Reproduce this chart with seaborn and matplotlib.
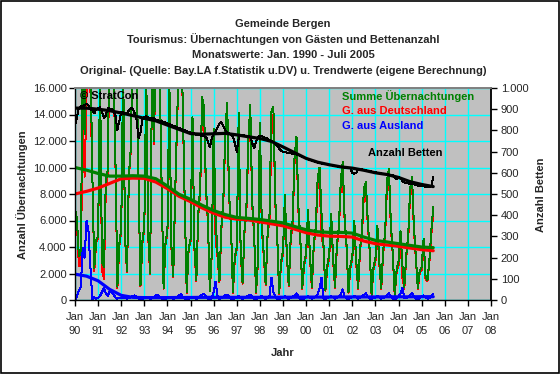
import matplotlib
matplotlib.use("Agg")
import matplotlib.pyplot as plt
import matplotlib.ticker as mticker
import numpy as np
import pandas as pd
import seaborn as sns
from matplotlib.patches import Rectangle

# monthly values Jan 1990 - Jul 2005 (one row per year)
SUMME = [
    6900, 6100, 3300, 3600, 17500, 12500, 21500, 26000, 18500, 9500, 2400, 4500,
    4800, 17000, 2900, 2500, 9000, 9800, 21000, 24500, 18000, 10500, 1000, 4200,
    5400, 17500, 4700, 2200, 9500, 11500, 20500, 25000, 17500, 9000, 1100, 4400,
    5600, 17000, 5000, 2000, 17200, 12000, 20000, 23500, 17000, 8500, 900, 4300,
    5200, 16500, 4200, 1800, 8000, 13500, 18500, 21000, 14500, 7200, 600, 3900,
    4600, 13800, 4000, 1500, 6500, 8500, 15300, 14500, 8500, 6000, 700, 3500,
    12900, 6000, 3600, 1400, 5500, 7500, 12500, 14900, 8000, 5600, 600, 3300,
    4000, 14100, 3800, 1300, 5200, 7000, 12000, 14700, 7500, 5000, 600, 3000,
    13400, 5600, 3500, 1200, 5000, 6500, 14200, 14600, 7500, 4800, 500, 2900,
    3700, 7900, 3400, 1100, 4700, 6000, 10800, 12300, 7000, 4600, 900, 2800,
    3500, 6800, 3300, 1000, 4300, 5500, 9200, 10000, 6500, 4200, 750, 2600,
    3400, 6500, 3200, 1000, 4200, 5500, 9000, 10400, 6200, 4100, 600, 2600,
    3300, 6000, 3000, 900, 3900, 5200, 8400, 8900, 6000, 3800, 400, 2500,
    3100, 5600, 2900, 900, 3700, 5000, 9000, 9900, 5800, 3500, 400, 2300,
    2900, 5200, 2600, 1000, 3400, 4800, 8400, 9300, 5500, 3200, 900, 2200,
    2500, 4600, 1800, 1500, 3000, 5200, 7000,
]

AUSLAND = [
    0, 300, 700, 1000, 3900, 3200, 6000, 5200, 2500, 0, 200, 100,
    150, 300, 600, 900, 500, 300, 700, 600, 400, 200, 100, 150,
    150, 200, 150, 100, 150, 200, 300, 350, 200, 100, 50, 100,
    120, 200, 150, 80, 150, 250, 350, 400, 250, 100, 50, 100,
    150, 250, 150, 80, 150, 250, 350, 450, 250, 100, 50, 100,
    150, 250, 150, 80, 150, 300, 400, 450, 250, 100, 50, 120,
    600, 1400, 300, 80, 150, 250, 350, 400, 250, 100, 50, 120,
    200, 300, 150, 80, 150, 250, 300, 400, 250, 100, 50, 120,
    200, 300, 150, 80, 150, 300, 1700, 600, 250, 100, 50, 120,
    200, 300, 150, 80, 150, 250, 350, 500, 250, 100, 50, 120,
    200, 300, 150, 100, 150, 250, 450, 900, 1700, 100, 50, 150,
    200, 300, 200, 100, 150, 250, 400, 800, 250, 100, 50, 150,
    200, 300, 200, 100, 150, 250, 400, 500, 250, 100, 50, 150,
    200, 300, 200, 100, 150, 250, 400, 500, 300, 100, 50, 150,
    250, 500, 900, 150, 150, 250, 400, 500, 300, 100, 50, 150,
    250, 350, 200, 100, 150, 300, 450,
]

BETTEN = [
    820, 860, 905, 915, 912, 920, 925, 918, 900, 895, 880, 900,
    905, 910, 890, 860, 870, 905, 903, 900, 895, 870, 800, 845,
    888, 885, 880, 878, 895, 905, 902, 880, 850, 762, 790, 850,
    865, 866, 862, 858, 855, 858, 850, 848, 845, 843, 840, 836,
    832, 830, 826, 822, 818, 815, 812, 808, 804, 800, 796, 792,
    790, 788, 785, 780, 778, 776, 774, 772, 770, 748, 722, 760,
    785, 795, 815, 832, 838, 822, 800, 790, 785, 782, 770, 740,
    700, 765, 778, 778, 776, 774, 772, 770, 740, 716, 745, 770,
    775, 772, 768, 765, 760, 755, 750, 745, 735, 725, 715, 705,
    700, 698, 695, 693, 692, 690, 688, 686, 683, 680, 676, 672,
    668, 664, 660, 657, 654, 651, 648, 646, 644, 642, 640, 639,
    638, 636, 634, 632, 630, 628, 627, 626, 625, 624, 623, 622,
    598, 596, 598, 615, 618, 616, 614, 612, 610, 608, 606, 604,
    602, 600, 598, 597, 596, 594, 593, 592, 590, 589, 575, 570,
    580, 575, 560, 555, 552, 550, 548, 546, 545, 542, 540, 538,
    537, 536, 535, 534, 533, 536, 582,
]

# trend values, every half year Jan 1990 - Jul 2005
TREND_SUMME = [
    10000, 9800, 9550, 9350, 9350, 9380, 9350, 9150, 8600, 7980, 7600, 7150,
    6750, 6450, 6230, 6160, 6080, 5950, 5820, 5550, 5300, 5150, 5100, 5100,
    5050, 4750, 4500, 4380, 4250, 4120, 4000, 3950,
]
TREND_DEUTSCH = [
    8000, 8200, 8450, 8800, 9150, 9200, 9180, 8900, 8400, 7830, 7420, 6950,
    6550, 6250, 6100, 6040, 5900, 5750, 5600, 5350, 5080, 4900, 4820, 4800,
    4750, 4450, 4250, 4150, 4050, 3920, 3800, 3720,
]
TREND_AUSLAND = [
    1950, 1800, 1450, 800, 350, 200, 180, 180, 180, 190, 190, 200,
    200, 200, 200, 200, 200, 210, 210, 210, 220, 220, 220, 230,
    230, 230, 230, 240, 240, 240, 250, 250,
]
TREND_BETTEN = [
    905, 905, 900, 893, 882, 870, 857, 845, 825, 805, 785, 782,
    784, 786, 779, 770, 762, 748, 722, 695, 668, 650, 638, 628,
    622, 612, 600, 592, 578, 558, 545, 535,
]

YEAR_LABELS = ["90", "91", "92", "93", "94", "95", "96", "97", "98", "99",
               "00", "01", "02", "03", "04", "05", "06", "07", "08"]

TITLE_LINES = [
    "Gemeinde Bergen",
    "Tourismus: Übernachtungen von Gästen und Bettenanzahl",
    "Monatswerte: Jan. 1990 - Juli 2005",
    "Original- (Quelle: Bay.LA f.Statistik u.DV) u. Trendwerte (eigene Berechnung)",
]

W, H = 560, 374


def px(x, y):
    """Pixel position (from top left) to figure fraction."""
    return x / W, 1 - y / H


def de_thousands(v, pos=None):
    return f"{int(round(v)):,}".replace(",", ".")


def main():
    sns.set_theme(style="white")
    plt.rcParams["font.family"] = ["Liberation Sans", "DejaVu Sans"]

    months = pd.DataFrame({
        "t": 1990 + np.arange(len(SUMME)) / 12,
        "summe": SUMME,
        "ausland": AUSLAND,
        "betten": BETTEN,
    })
    months["deutsch"] = months["summe"] - months["ausland"]

    trends = pd.DataFrame({
        "t": 1990 + np.arange(len(TREND_SUMME)) / 2,
        "summe": TREND_SUMME,
        "deutsch": TREND_DEUTSCH,
        "ausland": TREND_AUSLAND,
        "betten": TREND_BETTEN,
    })

    fig = plt.figure(figsize=(W / 100, H / 100), dpi=100)
    fig.patch.set_facecolor("white")
    fig.patches.append(Rectangle((0.001, 0.002), 0.997, 0.995, transform=fig.transFigure,
                                 fill=False, edgecolor="black", linewidth=1.2))

    left, top, right, bottom = 75, 88, 491, 300
    ax = fig.add_axes([left / W, 1 - bottom / H, (right - left) / W, (bottom - top) / H])
    ax.set_facecolor("#C0C0C0")

    thin = dict(linewidth=0.72, antialiased=False)
    thick = dict(linewidth=2.3)
    sns.lineplot(data=months, x="t", y="deutsch", ax=ax, color="#FF0000", **thin)
    sns.lineplot(data=months, x="t", y="summe", ax=ax, color="#008000", **thin)
    sns.lineplot(data=months, x="t", y="ausland", ax=ax, color="#0000FF", **thin)
    sns.lineplot(data=trends, x="t", y="deutsch", ax=ax, color="#FF0000", **thick)
    sns.lineplot(data=trends, x="t", y="summe", ax=ax, color="#008000", **thick)
    sns.lineplot(data=trends, x="t", y="ausland", ax=ax, color="#0000FF", **thick)

    ax.set_xlim(1990, 2008)
    ax.set_ylim(0, 16000)
    ax.set_xticks(np.arange(1990, 2009))
    ax.set_xticklabels([f"Jan\n{y}" for y in YEAR_LABELS], linespacing=1.45)
    ax.set_yticks(np.arange(0, 16001, 2000))
    ax.yaxis.set_major_formatter(mticker.FuncFormatter(de_thousands))
    ax.grid(True, color="#00FFFF", linewidth=1.0)
    ax.set_axisbelow(True)
    ax.set_xlabel("")
    ax.set_ylabel("")
    ax.tick_params(axis="both", which="major", labelsize=8, direction="out",
                   length=4, width=1, color="black", pad=2,
                   bottom=True, left=True)
    ax.tick_params(axis="x", pad=5)
    for side in ("left", "bottom"):
        ax.spines[side].set_color("black")
        ax.spines[side].set_linewidth(1)
    ax.spines["top"].set_color("#808080")
    ax.spines["right"].set_color("#808080")

    ax2 = ax.twinx()
    sns.lineplot(data=months, x="t", y="betten", ax=ax2, color="black", **thin)
    sns.lineplot(data=trends, x="t", y="betten", ax=ax2, color="black", **thick)
    ax2.set_ylim(0, 1000)
    ax2.set_yticks(np.arange(0, 1001, 100))
    ax2.yaxis.set_major_formatter(mticker.FuncFormatter(de_thousands))
    ax2.set_ylabel("")
    ax2.grid(False)
    ax2.tick_params(axis="y", labelsize=8, direction="out", length=4, width=1,
                    color="black", pad=3, right=True)
    ax2.spines["right"].set_color("black")
    ax2.spines["top"].set_color("#808080")
    ax2.spines["left"].set_visible(False)
    ax2.spines["bottom"].set_visible(False)

    # titles
    for text, y in zip(TITLE_LINES, [24, 39.5, 55, 70.5]):
        fig.text(*px(283, y), text, ha="center", va="center", fontsize=8, fontweight="bold")

    fig.text(*px(22, 195), "Anzahl Übernachtungen", rotation=90, ha="center", va="center",
             fontsize=8, fontweight="bold")
    fig.text(*px(541, 195), "Anzahl Betten", rotation=90, ha="center", va="center",
             fontsize=8, fontweight="bold")
    fig.text(*px(283, 353), "Jahr", ha="center", va="center", fontsize=8, fontweight="bold")

    # labels inside plot area
    fig.text(*px(80, 96), "© StratCon", ha="left", va="center", fontsize=8,
             fontweight="bold", color="black")
    fig.text(*px(342, 96), "Summe Übernachtungen", ha="left", va="center", fontsize=8,
             fontweight="bold", color="#008000")
    fig.text(*px(342, 111), "G. aus Deutschland", ha="left", va="center", fontsize=8,
             fontweight="bold", color="#FF0000")
    fig.text(*px(342, 126), "G. aus Ausland", ha="left", va="center", fontsize=8,
             fontweight="bold", color="#0000FF")
    fig.text(*px(368, 153), "Anzahl Betten", ha="left", va="center", fontsize=8,
             fontweight="bold", color="black")

    fig.savefig("out.png", dpi=100, facecolor="white")
    plt.close(fig)


if __name__ == "__main__":
    main()
